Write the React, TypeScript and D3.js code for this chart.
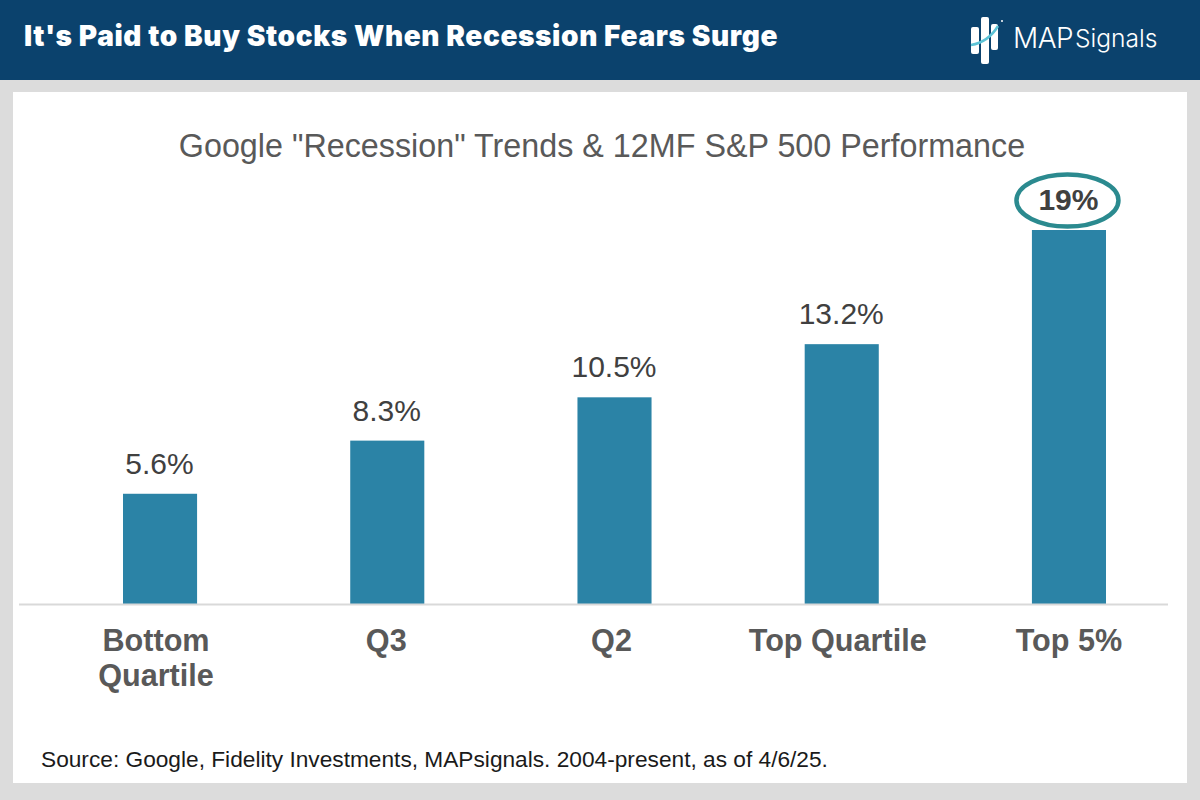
import { useEffect, useRef } from 'react'
import * as d3 from 'd3'

const categories = ['Bottom Quartile', 'Q3', 'Q2', 'Top Quartile', 'Top 5%']
const values = [5.6, 8.3, 10.5, 13.2, 19]
const valueLabels = ['5.6%', '8.3%', '10.5%', '13.2%', '19%']
const categoryLines = [['Bottom', 'Quartile'], ['Q3'], ['Q2'], ['Top Quartile'], ['Top 5%']]

const headerTitle = "It's Paid to Buy Stocks When Recession Fears Surge"
const chartTitle = 'Google "Recession" Trends & 12MF S&P 500 Performance'
const sourceNote = 'Source: Google, Fidelity Investments, MAPsignals. 2004-present, as of 4/6/25.'

const WIDTH = 1200
const HEIGHT = 800
const ARIAL = '"Liberation Sans", Arial, sans-serif'

// small nudges so the category labels sit where they do in the picture
const categoryNudge = [-4, -1, -3, -4, 0]

export default function App() {
  const svgRef = useRef<SVGSVGElement>(null)

  useEffect(() => {
    if (!svgRef.current) return
    const svg = d3.select(svgRef.current)
    svg.selectAll('*').remove()

    // Frame
    svg.append('rect').attr('width', WIDTH).attr('height', HEIGHT).attr('fill', '#dcdcdc')
    svg.append('rect').attr('width', WIDTH).attr('height', 80).attr('fill', '#0b426d')
    svg.append('rect')
      .attr('x', 13).attr('y', 92)
      .attr('width', 1174).attr('height', 691)
      .attr('fill', '#ffffff')

    svg.append('text')
      .attr('x', 24).attr('y', 46)
      .attr('font-family', 'Inter, sans-serif')
      .attr('font-weight', 900)
      .attr('font-size', 28)
      .attr('letter-spacing', 0.61)
      .attr('fill', '#ffffff')
      .text(headerTitle)

    // Logo
    const logo = svg.append('g')
    logo.append('rect').attr('x', 971).attr('y', 27).attr('width', 8).attr('height', 27).attr('rx', 2).attr('fill', '#fff')
    logo.append('rect').attr('x', 981).attr('y', 17).attr('width', 8).attr('height', 47).attr('rx', 2).attr('fill', '#fff')
    logo.append('rect').attr('x', 991).attr('y', 24).attr('width', 7).attr('height', 26).attr('rx', 2).attr('fill', '#fff')
    logo.append('path')
      .attr('d', 'M971 45 C 983 43, 992 36, 998 26')
      .attr('fill', 'none')
      .attr('stroke', '#5cc3d6')
      .attr('stroke-width', 2.5)
    logo.append('circle').attr('cx', 1002).attr('cy', 21).attr('r', 1).attr('fill', '#fff')
    logo.append('text')
      .attr('x', 1013).attr('y', 48)
      .attr('font-family', 'Inter, sans-serif')
      .attr('font-weight', 300)
      .attr('font-size', 28)
      .attr('letter-spacing', -0.5)
      .attr('fill', '#fff')
      .text('MAP')
    logo.append('text')
      .attr('x', 1075).attr('y', 47)
      .attr('font-family', 'Inter, sans-serif')
      .attr('font-weight', 300)
      .attr('font-size', 24.6)
      .attr('fill', '#fff')
      .text('Signals')

    // Chart title
    svg.append('text')
      .attr('x', 602).attr('y', 157)
      .attr('text-anchor', 'middle')
      .attr('font-family', ARIAL)
      .attr('font-size', 32.3)
      .attr('fill', '#595959')
      .text(chartTitle)

    const x = d3.scaleBand<string>()
      .domain(categories)
      .range([123, 1106])
      .paddingInner(0.674)
      .paddingOuter(0)
    const y = d3.scaleLinear().domain([0, 19]).range([604, 230])

    // Bars
    svg.append('g')
      .selectAll('rect')
      .data(categories)
      .join('rect')
      .attr('x', d => x(d)!)
      .attr('y', (_, i) => y(values[i]))
      .attr('width', x.bandwidth())
      .attr('height', (_, i) => y(0) - y(values[i]))
      .attr('fill', '#2b83a6')

    // Baseline
    svg.append('line')
      .attr('x1', 19).attr('x2', 1168)
      .attr('y1', y(0) + 0.5).attr('y2', y(0) + 0.5)
      .attr('stroke', '#d9d9d9')
      .attr('stroke-width', 2)

    // Value labels
    categories.forEach((c, i) => {
      const cx = x(c)! + x.bandwidth() / 2
      const last = i === categories.length - 1
      svg.append('text')
        .attr('x', cx - 0.5)
        .attr('y', y(values[i]) - 20)
        .attr('text-anchor', 'middle')
        .attr('font-family', ARIAL)
        .attr('font-size', 30)
        .attr('font-weight', last ? 700 : 400)
        .attr('fill', '#404040')
        .text(valueLabels[i])

      // Category labels
      categoryLines[i].forEach((line, j) => {
        svg.append('text')
          .attr('x', cx + categoryNudge[i])
          .attr('y', y(0) + 47 + j * 35)
          .attr('text-anchor', 'middle')
          .attr('font-family', ARIAL)
          .attr('font-size', 30.6)
          .attr('font-weight', 700)
          .attr('fill', '#595959')
          .text(line)
      })

      if (last) {
        svg.append('ellipse')
          .attr('cx', cx - 1.5)
          .attr('cy', y(values[i]) - 29.5)
          .attr('rx', 51)
          .attr('ry', 26)
          .attr('fill', 'none')
          .attr('stroke', '#2b8a8f')
          .attr('stroke-width', 4.5)
      }
    })

    // Source
    svg.append('text')
      .attr('x', 41).attr('y', 767)
      .attr('font-family', ARIAL)
      .attr('font-size', 22.7)
      .attr('fill', '#1a1a1a')
      .text(sourceNote)
  }, [])

  return (
    <svg
      ref={svgRef}
      width={WIDTH}
      height={HEIGHT}
      style={{ position: 'absolute', left: 0, top: 0 }}
    />
  )
}
